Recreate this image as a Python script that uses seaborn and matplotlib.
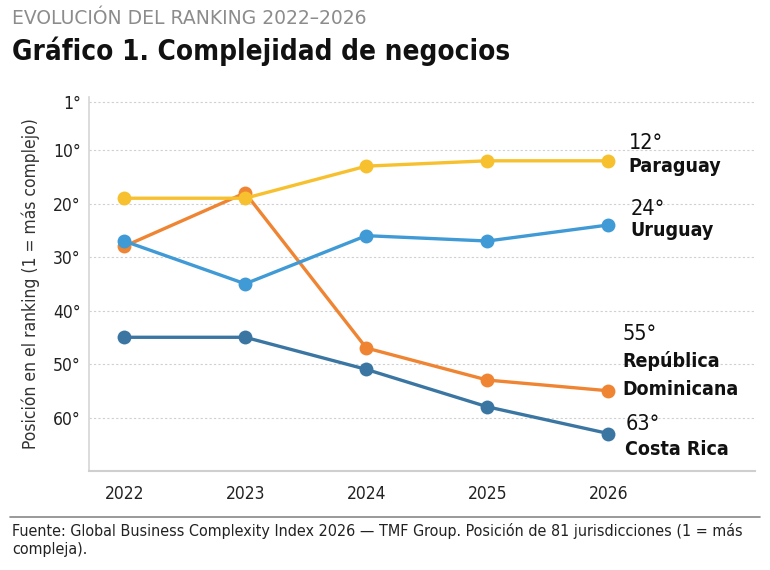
import seaborn as sns
import pandas as pd
import matplotlib.pyplot as plt

years = [2022, 2023, 2024, 2025, 2026]
countries = ['Costa Rica', 'República Dominicana', 'Uruguay', 'Paraguay']
costa_rica = [45, 45, 51, 58, 63]
rep_dominicana = [28, 18, 47, 53, 55]
uruguay = [27, 35, 26, 27, 24]
paraguay = [19, 19, 13, 12, 12]
y_ticks = [1, 10, 20, 30, 40, 50, 60]

colors = {'Costa Rica': '#3b76a3', 'República Dominicana': '#ef8533',
          'Uruguay': '#3f9ad6', 'Paraguay': '#f7c02f'}

rows = []
for name, vals in zip(countries, [costa_rica, rep_dominicana, uruguay, paraguay]):
    for y, v in zip(years, vals):
        rows.append({'Año': y, 'País': name, 'Posición': v})
data = pd.DataFrame(rows)

sns.set_style('white')
plt.rcParams['font.family'] = ['DejaVu Sans']
plt.rcParams['font.stretch'] = 'condensed'

fig = plt.figure(figsize=(7.7, 5.7), dpi=100)
ax = fig.add_axes([0.1156, 0.1737, 0.8649, 0.6568])

sns.lineplot(data=data, x='Año', y='Posición', hue='País', hue_order=countries,
             palette=colors, marker='o', markersize=10, markeredgewidth=0,
             linewidth=2.4, legend=False, ax=ax)

ax.set_ylim(70, 0)
ax.set_xlim(2021.71, 2027.21)
ax.set_yticks(y_ticks)
ax.set_yticklabels([f'{t}°' for t in y_ticks])
ax.set_xticks(years)
ax.set_xticklabels([str(y) for y in years])
ax.tick_params(axis='both', length=0, labelsize=12.5, labelcolor='#222222')
ax.tick_params(axis='x', pad=10)
ax.tick_params(axis='y', pad=6)
ax.set_xlabel('')
ax.set_ylabel('Posición en el ranking (1 = más complejo)', fontsize=12.5,
              color='#333333', labelpad=9)
ax.yaxis.grid(True, linestyle=(0, (2, 2)), color='#d0d0d0', linewidth=0.8)
ax.xaxis.grid(False)
for s in ['top', 'right']:
    ax.spines[s].set_visible(False)
ax.spines['left'].set_color('#d5d5d5')
ax.spines['bottom'].set_color('#cfcfcf')
ax.spines['left'].set_linewidth(1.2)
ax.spines['bottom'].set_linewidth(1.5)

# end labels: rank text and name lines, offsets in pixels from the last point
labels = [
    (paraguay[-1], 20, ('12°', 18), [('Paraguay', -6)]),
    (uruguay[-1], 22, ('24°', 16), [('Uruguay', -6)]),
    (rep_dominicana[-1], 14, ('55°', 57), [('República', 30), ('Dominicana', 1)]),
    (costa_rica[-1], 17, ('63°', 10), [('Costa Rica', -16)]),
]
for val, dx, (rank, rdy), names in labels:
    ax.annotate(rank, xy=(years[-1], val), xytext=(dx, rdy),
                textcoords='offset pixels', fontsize=15.5, color='#111111',
                va='center', ha='left', annotation_clip=False)
    for txt, dy in names:
        ax.annotate(txt, xy=(years[-1], val), xytext=(dx, dy),
                    textcoords='offset pixels', fontsize=14, fontweight='bold',
                    color='#111111', va='center', ha='left', annotation_clip=False)

fig.text(12 / 770, 1 - 18 / 570, 'EVOLUCIÓN DEL RANKING 2022–2026', fontsize=13.5,
         color='#8c8c8c', va='center', ha='left', fontstretch='normal')
fig.text(12 / 770, 1 - 51 / 570, 'Gráfico 1. Complejidad de negocios', fontsize=20,
         fontweight='bold', color='#111111', va='center', ha='left')

fig.add_artist(plt.Line2D([10 / 770, 760 / 770], [1 - 517 / 570, 1 - 517 / 570],
                          color='#888888', linewidth=1.2))
fig.text(12 / 770, 1 - 540 / 570,
         'Fuente: Global Business Complexity Index 2026 — TMF Group. Posición de 81 '
         'jurisdicciones (1 = más\ncompleja).', fontsize=11.5, color='#222222',
         va='center', ha='left', linespacing=1.3)

fig.savefig('out.png', dpi=100)
